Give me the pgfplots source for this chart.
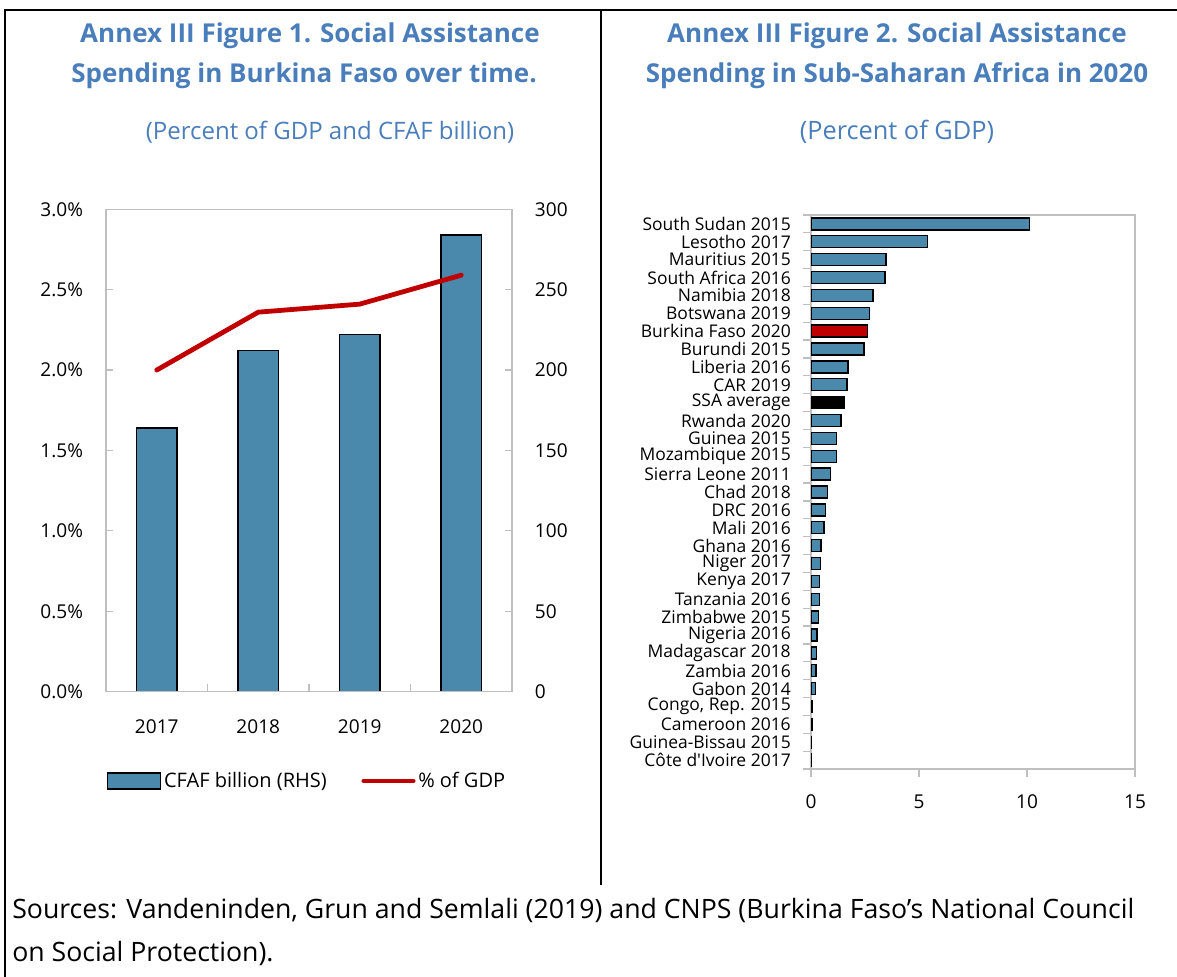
\documentclass[border=0pt]{standalone}
\usepackage{pgfplots}
\pgfplotsset{compat=1.18}
\usepackage{fontspec}
\setmainfont{Open Sans}
\definecolor{barblue}{HTML}{4A89AC}
\definecolor{gdpred}{HTML}{C00000}
\definecolor{titleblue}{HTML}{4A7EBB}
\definecolor{axgray}{HTML}{BFBFBF}
\begin{document}
\begin{tikzpicture}[x=0.75pt,y=0.75pt]
\path[use as bounding box] (0,0) rectangle (1177,977);
% panel frame
\draw[line width=1.5pt] (4.5,0) -- (4.5,966.5) -- (1177,966.5);
\draw[line width=1.5pt] (600.5,966.5) -- (600.5,92);
% titles
\node[font=\fontsize{19.5}{22}\selectfont\bfseries, text=titleblue] at (310,941) {Annex III Figure 1. Social Assistance};
\node[font=\fontsize{19.5}{22}\selectfont\bfseries, text=titleblue] at (304,901) {Spending in Burkina Faso over time.};
\node[font=\fontsize{18}{21}\selectfont, text=titleblue] at (330,845) {(Percent of GDP and CFAF billion)};
\node[font=\fontsize{19.5}{22}\selectfont\bfseries, text=titleblue] at (897,941) {Annex III Figure 2. Social Assistance};
\node[font=\fontsize{19.5}{22}\selectfont\bfseries, text=titleblue] at (897,901) {Spending in Sub-Saharan Africa in 2020};
\node[font=\fontsize{19}{22}\selectfont, text=titleblue] at (897,845) {(Percent of GDP)};
% sources
\node[font=\fontsize{20}{24}\selectfont, anchor=west, inner sep=0pt] at (12,67) {Sources: Vandeninden, Grun and Semlali (2019) and CNPS (Burkina Faso’s National Council};
\node[font=\fontsize{20}{24}\selectfont, anchor=west, inner sep=0pt] at (12,24) {on Social Protection).};

% ---------- Figure 1: bars (RHS) ----------
\begin{axis}[
  at={(79.5pt,214pt)}, anchor=south west, scale only axis,
  width=304.5pt, height=361.8pt,
  xmin=-0.5, xmax=3.5, ymin=0, ymax=300,
  axis line style={axgray, line width=0.9pt},
  tick style={axgray, line width=0.9pt},
  tick align=inside, major tick length=5pt, minor tick length=6pt,
  xtick={0,1,2,3}, xticklabels={2017,2018,2019,2020},
  major x tick style={draw=none},
  minor xtick={0.5,1.5,2.5}, xtick pos=bottom,
  ytick={0,50,...,300}, yticklabel pos=right,
  ticklabel style={font=\fontsize{14.3}{17}\selectfont, text=black},
  /pgf/number format/assume math mode=true,
  xticklabel style={inner sep=0pt, anchor=north, yshift=-21pt},
  yticklabel style={inner sep=0pt, anchor=west, xshift=17pt},
]
\addplot[ybar, bar width=30.5pt, fill=barblue, draw=black, line width=1pt]
  coordinates {(0,164) (1,212) (2,222) (3,284)};
\end{axis}

% ---------- Figure 1: line (LHS) ----------
\begin{axis}[
  at={(79.5pt,214pt)}, anchor=south west, scale only axis,
  width=304.5pt, height=361.8pt,
  xmin=-0.5, xmax=3.5, ymin=0, ymax=3,
  axis line style={axgray, line width=0.9pt},
  tick style={axgray, line width=0.9pt},
  tick align=inside, major tick length=5pt,
  xtick=\empty,
  ytick={0,0.5,...,3}, ytick pos=left, yticklabel pos=left,
  yticklabel={\pgfmathprintnumber[fixed,fixed zerofill,precision=1]{\tick}\%},
  ticklabel style={font=\fontsize{14.3}{17}\selectfont, text=black},
  /pgf/number format/assume math mode=true,
  yticklabel style={inner sep=0pt, anchor=east, xshift=-17pt},
  legend style={at={(0.496,-0.185)}, anchor=center, draw=none, fill=none,
    font=\fontsize{15}{18}\selectfont, inner sep=0pt,
    /tikz/every even column/.append style={column sep=24pt}},
  legend columns=2, legend cell align=left,
]
\addlegendimage{legend image code/.code={\draw[fill=barblue,draw=black,line width=0.9pt] (0pt,-6pt) rectangle (40pt,6pt);}}
\addlegendentry{CFAF billion (RHS)}
\addplot[gdpred, line width=3.6pt, line cap=round, mark=none,
  legend image code/.code={\draw[gdpred,line width=3.6pt,line cap=round] (0pt,0pt) -- (37pt,0pt);}]
  coordinates {(0,2.00) (1,2.36) (2,2.41) (3,2.59)};
\addlegendentry{\% of GDP}
\end{axis}

% ---------- Figure 2 ----------
\begin{axis}[
  at={(608.25pt,156pt)}, anchor=south west, scale only axis,
  width=243pt, height=415.5pt,
  xmin=0, xmax=15, ymin=-0.5, ymax=30.5, y dir=reverse,
  axis line style={axgray, line width=0.9pt},
  tick style={axgray, line width=0.9pt},
  tick align=outside, major tick length=6pt, minor tick length=6pt,
  xtick={0,5,10,15}, xtick pos=bottom,
  ytick={0,1,...,30}, ytick pos=left, major y tick style={draw=none},
  minor ytick={-0.5,0.5,...,30.5},
  yticklabels={South Sudan 2015, Lesotho 2017, Mauritius 2015, South Africa 2016, Namibia 2018, Botswana 2019, Burkina Faso 2020, Burundi 2015, Liberia 2016, CAR 2019, SSA average, Rwanda 2020, Guinea 2015, Mozambique 2015, Sierra Leone 2011, Chad 2018, DRC 2016, Mali 2016, Ghana 2016, Niger 2017, Kenya 2017, Tanzania 2016, Zimbabwe 2015, Nigeria 2016, Madagascar 2018, Zambia 2016, Gabon 2014, {Congo, Rep. 2015}, Cameroon 2016, Guinea-Bissau 2015, C\^ote d\textquotesingle Ivoire 2017},
  ticklabel style={text=black},
  /pgf/number format/assume math mode=true,
  xticklabel style={font=\fontsize{14.3}{17}\selectfont, inner sep=0pt, anchor=north, yshift=-13pt},
  yticklabel style={font=\fontsize{13.1}{15}\selectfont, inner sep=0pt, anchor=east, xshift=-9pt},
]
\addplot[xbar, bar width=9pt, bar shift=0pt, fill=barblue, draw=black, line width=1pt]
  coordinates {(10.1,0) (5.4,1) (3.47,2) (3.42,3) (2.87,4) (2.71,5) (2.45,7) (1.72,8) (1.67,9)
  (1.39,11) (1.19,12) (1.17,13) (0.91,14) (0.76,15) (0.68,16) (0.60,17) (0.46,18) (0.43,19)
  (0.40,20) (0.39,21) (0.36,22) (0.28,23) (0.26,24) (0.23,25) (0.20,26) (0.06,27) (0.06,28)
  (0.03,29) (0.03,30)};
\addplot[xbar, bar width=9pt, bar shift=0pt, fill=gdpred, draw=black, line width=1pt]
  coordinates {(2.62,6)};
\addplot[xbar, bar width=9pt, bar shift=0pt, fill=black, draw=black, line width=1pt]
  coordinates {(1.56,10)};
\end{axis}
\end{tikzpicture}
\end{document}
